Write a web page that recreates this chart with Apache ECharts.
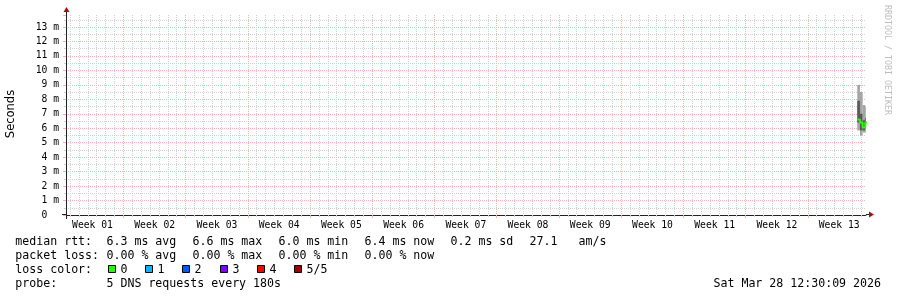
<!DOCTYPE html>
<html><head><meta charset="utf-8">
<script src="https://cdn.jsdelivr.net/npm/echarts@6/dist/echarts.min.js"></script>
<style>html,body{margin:0;padding:0;background:#fff}#c{width:897px;height:297px}</style>
</head><body><div id="c"></div>
<script>
// ---------- data ----------
const weekLabels = ['Week 01','Week 02','Week 03','Week 04','Week 05','Week 06','Week 07',
  'Week 08','Week 09','Week 10','Week 11','Week 12','Week 13'];
// x axis: days since graph start (Sun Dec 28 2025 12:30:09), 90 day span
const xSpanDays = 90;
const firstMidnight = 0.479;   // Mon Dec 29 00:00
const firstWeekStart = 6.479;  // Sun Jan 4 00:00
const yMaxMs = 13.83;
// smoke columns (7.2 h consolidation)
const times   = [89.02, 89.32, 89.62, 89.92];
const stepDays = 0.3;
const pingMin = [5.85, 5.50, 5.70, 5.70];
const ping2   = [6.40, 5.85, 5.85, 6.00];
const median  = [6.60, 6.40, 6.05, 6.40];
const ping4   = [7.90, 7.00, 6.55, 6.70];
const pingMax = [9.00, 8.50, 7.60, 7.50];
const lossColors = ['#26ff00','#00b8ff','#0059ff','#7e00ff','#ff0000','#a00000'];
const lossLabels = ['0','1','2','3','4','5/5'];
const legendRows = [
  ['median rtt:', '6.3 ms avg', '6.6 ms max', '6.0 ms min', '6.4 ms now', '0.2 ms sd', '27.1', 'am/s'],
  ['packet loss:', '0.00 % avg', '0.00 % max', '0.00 % min', '0.00 % now'],
];
const probeText = ['probe:', '5 DNS requests every 180s'];
const dateText = 'Sat Mar 28 12:30:09 2026';

// ---------- layout ----------
const L = 66, T = 15, W = 800, H = 200, B = T + H;
const MONO = '"DejaVu Sans Mono", monospace';
const GRID_C = '#d2d2d2', MGRID_C = '#f2b2b2', AXIS_C = '#222', ARROW_C = '#a01010';

const dayLines = [];
for (let d = firstMidnight; d < xSpanDays; d += 1) dayLines.push([+d.toFixed(3), 0]);
const isWeek = d => { const r = (((d - firstWeekStart) % 7) + 7) % 7; return r < 1e-3 || 7 - r < 1e-3; };
const weekCenters = weekLabels.map((_, i) => +(firstWeekStart - 3.5 + 7 * i).toFixed(3));

const smokeData = times.map((t, i) => [t, pingMin[i], ping2[i], median[i], ping4[i], pingMax[i]]);
const medianData = times.map((t, i) => [t, median[i]]);
medianData.push([times[times.length - 1] + stepDays, median[median.length - 1]]);

const chart = echarts.init(document.getElementById('c'), null, {renderer: 'canvas'});

const segX = [15.3, 106.5, 192.5, 278.5, 364.5, 450.5, 529.5, 578.5];
const rowY = [241.5, 255.5, 269.5, 283.5];
const FONT = '11.6px ' + MONO;
const graphics = [];
legendRows.forEach((row, r) => row.forEach((s, j) => graphics.push({
  type: 'text', x: segX[j], y: rowY[r], silent: true,
  style: {text: s, font: FONT, fill: '#000', textVerticalAlign: 'middle'}
})));
graphics.push({type: 'text', x: segX[0], y: rowY[2], silent: true,
  style: {text: 'loss color:', font: FONT, fill: '#000', textVerticalAlign: 'middle'}});
lossColors.forEach((c, i) => {
  const bx = 108 + i * 37.2;
  graphics.push({type: 'rect', silent: true, shape: {x: Math.round(bx) + 0.5, y: 265.5, width: 7, height: 7},
    style: {fill: c, stroke: '#000', lineWidth: 1}});
  graphics.push({type: 'text', x: Math.round(bx) + 12.5, y: rowY[2], silent: true,
    style: {text: lossLabels[i], font: FONT, fill: '#000', textVerticalAlign: 'middle'}});
});
probeText.forEach((s, j) => graphics.push({type: 'text', x: segX[j], y: rowY[3], silent: true,
  style: {text: s, font: FONT, fill: '#000', textVerticalAlign: 'middle'}}));
graphics.push({type: 'text', x: 881, y: rowY[3], silent: true,
  style: {text: dateText, font: FONT, fill: '#000', textAlign: 'right', textVerticalAlign: 'middle'}});
// vertical unit label
graphics.push({type: 'text', x: 11, y: 114, rotation: Math.PI / 2, silent: true,
  style: {text: 'Seconds', font: '11.5px "DejaVu Sans", sans-serif', fill: '#000', textAlign: 'center', textVerticalAlign: 'middle'}});
// watermark
graphics.push({type: 'text', x: 887, y: 5, rotation: -Math.PI / 2, silent: true,
  style: {text: 'RRDTOOL / TOBI OETIKER', font: '8.3px ' + MONO, fill: '#bdbdbd', textAlign: 'left', textVerticalAlign: 'middle'}});
// axis extensions + arrows
const ax = L + 0.5, by = B - 0.5;
graphics.push({type: 'line', silent: true, shape: {x1: L - 4, y1: by, x2: L, y2: by}, style: {stroke: AXIS_C, lineWidth: 1}});
graphics.push({type: 'line', silent: true, shape: {x1: L + W, y1: by, x2: L + W + 4, y2: by}, style: {stroke: AXIS_C, lineWidth: 1}});
graphics.push({type: 'line', silent: true, shape: {x1: ax, y1: B, x2: ax, y2: B + 4}, style: {stroke: AXIS_C, lineWidth: 1}});
graphics.push({type: 'line', silent: true, shape: {x1: ax, y1: T, x2: ax, y2: T - 4}, style: {stroke: AXIS_C, lineWidth: 1}});
graphics.push({type: 'polygon', silent: true, shape: {points: [[L + W + 3, by - 3], [L + W + 8, by], [L + W + 3, by + 3]]}, style: {fill: ARROW_C}});
graphics.push({type: 'polygon', silent: true, shape: {points: [[ax - 3, T - 3], [ax, T - 8], [ax + 3, T - 3]]}, style: {fill: ARROW_C}});

chart.setOption({
  animation: false,
  backgroundColor: '#fff',
  grid: {left: L, top: T, width: W, height: H, containLabel: false},
  xAxis: {
    type: 'value', min: 0, max: xSpanDays,
    axisLine: {show: true, lineStyle: {color: AXIS_C, width: 1}},
    axisTick: {show: false},
    splitLine: {show: false},
    axisLabel: {
      customValues: weekCenters,
      formatter: v => {
        let best = 0;
        weekCenters.forEach((c, i) => { if (Math.abs(c - v) < Math.abs(weekCenters[best] - v)) best = i; });
        return weekLabels[best];
      },
      fontFamily: MONO, fontSize: 9.7, color: '#000', margin: 5
    }
  },
  yAxis: {
    type: 'value', min: 0, max: yMaxMs, interval: 1,
    axisLine: {show: true, lineStyle: {color: AXIS_C, width: 1}},
    axisTick: {show: true, length: 3, lineStyle: {color: MGRID_C}},
    minorTick: {show: true, splitNumber: 2, length: 2, lineStyle: {color: GRID_C}},
    splitLine: {show: true, showMaxLine: false, lineStyle: {color: MGRID_C, width: 1, type: [1, 1]}},
    minorSplitLine: {show: true, lineStyle: {color: GRID_C, width: 1, type: [1, 1]}},
    axisLabel: {
      showMaxLabel: false,
      formatter: v => v === 0 ? '0  ' : v + ' m',
      fontFamily: MONO, fontSize: 9.7, color: '#000', margin: 7
    }
  },
  series: [
    {
      type: 'custom', name: 'grid', silent: true, clip: false, z: 1,
      data: dayLines, encode: {x: 0, y: 1},
      renderItem(params, api) {
        const d = api.value(0);
        const top = api.coord([d, yMaxMs]);
        const bot = api.coord([d, 0]);
        const x = Math.floor(bot[0]) + 0.5;
        const major = isWeek(d);
        const col = major ? MGRID_C : GRID_C;
        const y0 = Math.round(top[1]), y1 = Math.round(bot[1]);
        return {type: 'group', children: [
          {type: 'line', shape: {x1: x, y1: y0, x2: x, y2: y1 - 1}, style: {stroke: col, lineWidth: 1, lineDash: [1, 1]}},
          {type: 'line', shape: {x1: x, y1: y1, x2: x, y2: y1 + (major ? 3 : 2)}, style: {stroke: col, lineWidth: 1}}
        ]};
      }
    },
    {
      type: 'custom', name: 'smoke', silent: true, clip: true, z: 2,
      data: smokeData, encode: {x: 0, y: [1, 5]},
      renderItem(params, api) {
        const t = api.value(0);
        const a = api.coord([t, api.value(1)]);
        const b = api.coord([t + stepDays, api.value(5)]);
        const c = api.coord([t, api.value(2)]);
        const d = api.coord([t + stepDays, api.value(4)]);
        return {type: 'group', children: [
          {type: 'rect', shape: {x: a[0], y: b[1], width: b[0] - a[0], height: a[1] - b[1]}, style: {fill: '#a4a4a4'}},
          {type: 'rect', shape: {x: c[0], y: d[1], width: d[0] - c[0], height: c[1] - d[1]}, style: {fill: '#585858'}}
        ]};
      }
    },
    {
      type: 'line', name: 'median rtt', data: medianData, step: 'end', symbol: 'none', z: 3,
      lineStyle: {color: lossColors[0], width: 2}, clip: true
    }
  ],
  graphic: graphics
});
</script></body></html>
